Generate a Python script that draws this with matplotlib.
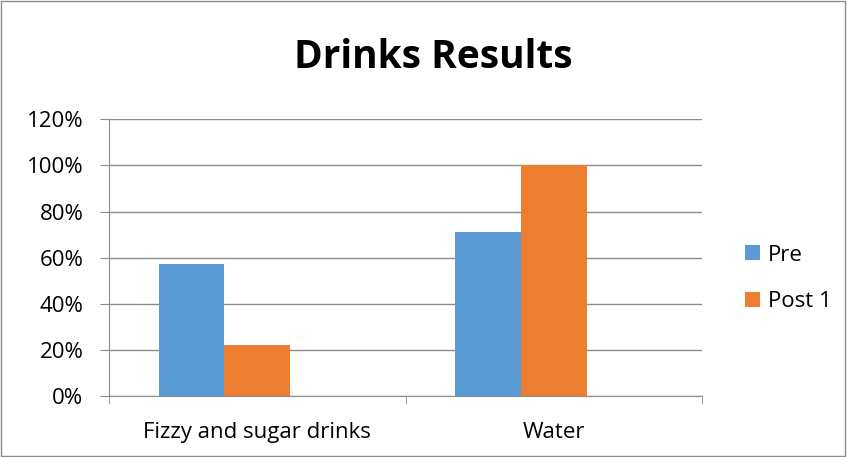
import matplotlib.pyplot as plt
import numpy as np
from matplotlib.patches import Rectangle

categories = ["Fizzy and sugar drinks", "Water"]
pre = [57.1, 71.3]
post1 = [22.1, 100]
series_names = ["Pre", "Post 1"]
colors = ["#5B9BD5", "#ED7D31"]

plt.rcParams["font.family"] = ["Open Sans", "DejaVu Sans"]

fig = plt.figure(figsize=(8.47, 4.57), dpi=100)
ax = fig.add_axes([0.1287, 0.1335, 0.7001, 0.6055])

# Excel-style grouping: room for three bars per category, third slot empty
x = np.arange(len(categories))
w = 0.221
ax.bar(x - w, pre, width=w, color=colors[0], label=series_names[0])
ax.bar(x, post1, width=w, color=colors[1], label=series_names[1])

ax.set_xlim(-0.5, 1.5)
ax.set_ylim(0, 120)
ax.set_yticks(range(0, 121, 20))
ax.set_yticklabels([f"{v}%" for v in range(0, 121, 20)])
ax.yaxis.grid(True, color="#8c8c8c", linewidth=1)
ax.set_axisbelow(True)

ax.set_xticks(x)
ax.set_xticklabels(categories)
ax.set_xticks([-0.5, 0.5, 1.5], minor=True)
ax.tick_params(axis="x", which="major", length=0, pad=19, labelsize=16)
ax.tick_params(axis="x", which="minor", length=6, color="#8c8c8c", direction="out")
ax.tick_params(axis="y", length=6.5, color="#8c8c8c", pad=12, labelsize=16)

for s in ["top", "right"]:
    ax.spines[s].set_visible(False)
for s in ["left", "bottom"]:
    ax.spines[s].set_color("#8c8c8c")

fig.text(0.511, 0.874, "Drinks Results", ha="center", va="center",
         fontsize=28, fontweight="bold")

fig.legend(loc="center left", bbox_to_anchor=(0.866, 0.391), frameon=False,
           fontsize=16, handlelength=0.68, handleheight=0.68, borderpad=0,
           handletextpad=0.36, labelspacing=1.15)

fig.add_artist(Rectangle((0.001, 0.002), 0.997, 0.996, transform=fig.transFigure,
                         fill=False, edgecolor="#8c8c8c", linewidth=1))

plt.savefig("out.png", dpi=100)
